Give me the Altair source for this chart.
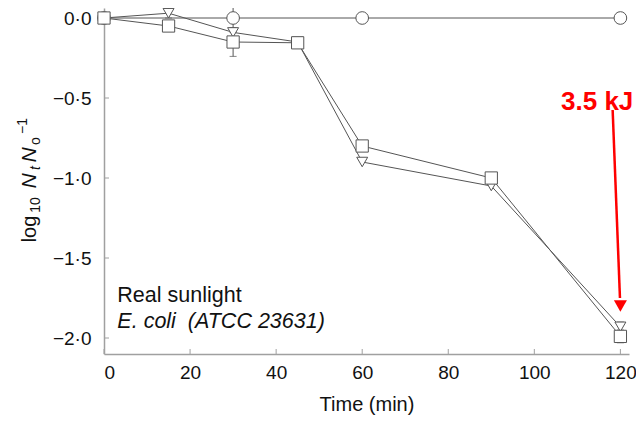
import altair as alt
import pandas as pd

# ---- data ----
t_circle = [0, 30, 60, 120]
y_circle = [0.0, 0.0, 0.0, 0.0]

t_tri = [0, 15, 30, 45, 60, 90, 120]
y_tri = [0.0, 0.03, -0.09, -0.15, -0.90, -1.05, -1.93]

t_sq = [0, 15, 30, 45, 60, 90, 120]
y_sq = [0.0, -0.05, -0.15, -0.155, -0.80, -1.00, -1.99]

err_t = [30, 30, 15, 30, 120, 120]
err_lo = [-0.09, -0.24, 0.0, -0.13, -2.03, -1.96]
err_hi = [0.09, -0.06, 0.07, -0.07, -1.95, -1.90]

x_ticks = [0, 20, 40, 60, 80, 100, 120]
y_ticks = [0.0, -0.5, -1.0, -1.5, -2.0]

note_lines = ["Real sunlight", "E. coli\u00a0\u00a0(ATCC 23631)"]
note_y = [-1.775, -1.94]

arrow_label = "3.5 kJ"
arrow_label_pos = (114.6, -0.575)
arrow_from = (118.2, -0.575)
arrow_to = (119.9, -1.75)
arrow_tip = (120.0, -1.80)

W, H = 525, 346
XDOM = [0, 122]
YDOM = [-2.1, 0.0625]
GRAY = "#555555"
AX = "#a0a0a0"
FONT = "Liberation Sans"

label_expr = "replace(replace(format(datum.value, '.1f'), '.', '\u00b7'), '-', '\u2212')"

xaxis = alt.Axis(values=x_ticks, ticks=False, grid=False, domainColor=AX, domainWidth=1.5,
                 labelFont=FONT, labelFontSize=19, labelColor="#111", labelPadding=9,
                 title="Time (min)", titleFont=FONT, titleFontSize=20, titleFontWeight="normal",
                 titleColor="#111", titlePadding=12)
yaxis = alt.Axis(values=y_ticks, ticks=False, grid=False, domainColor=AX, domainWidth=1.5,
                 labelFont=FONT, labelFontSize=19, labelColor="#111", labelPadding=13,
                 labelExpr=label_expr, title=None)

def X(field="x"):
    return alt.X(f"{field}:Q", scale=alt.Scale(domain=XDOM, nice=False, zero=False), axis=xaxis)

def Y(field="y"):
    return alt.Y(f"{field}:Q", scale=alt.Scale(domain=YDOM, nice=False, zero=False), axis=yaxis)

circ = pd.DataFrame({"x": t_circle, "y": y_circle})
tri = pd.DataFrame({"x": t_tri, "y": y_tri})
sq = pd.DataFrame({"x": t_sq, "y": y_sq})
err = pd.DataFrame({"x": err_t, "y": err_lo, "y2": err_hi})

def series(df, shape, size):
    line = alt.Chart(df).mark_line(color=GRAY, strokeWidth=1).encode(x=X(), y=Y())
    pts = alt.Chart(df).mark_point(shape=shape, size=size, filled=True, fill="white",
                                   stroke=GRAY, strokeWidth=1, opacity=1).encode(x=X(), y=Y())
    return line, pts

errbars = alt.Chart(err).mark_rule(color=GRAY, strokeWidth=1).encode(x=X(), y=Y(), y2="y2:Q")
cap_lo = alt.Chart(err).mark_tick(orient="horizontal", size=7, thickness=1, color=GRAY).encode(x=X(), y=Y())
cap_hi = alt.Chart(err).mark_tick(orient="horizontal", size=7, thickness=1, color=GRAY).encode(
    x=X(), y=Y("y2"))

c_line, c_pts = series(circ, "circle", 160)
t_line, t_pts = series(tri, "triangle-down", 120)
s_line, s_pts = series(sq, "square", 150)

xt = pd.DataFrame({"x": x_ticks})
yt = pd.DataFrame({"y": y_ticks})
xtick_marks = alt.Chart(xt).mark_rule(color=AX, strokeWidth=1).encode(
    x=X(), y=alt.value(H), y2=alt.value(H - 5))
ytick_marks = alt.Chart(yt).mark_rule(color=AX, strokeWidth=1).encode(
    y=Y(), x=alt.value(0), x2=alt.value(5))

note_a = alt.Chart(pd.DataFrame({"x": [3.1], "y": [note_y[0]], "text": [note_lines[0]]})).mark_text(
    align="left", baseline="alphabetic", font=FONT, fontSize=21.5, color="#111").encode(
    x=X(), y=Y(), text="text:N")
note_b = alt.Chart(pd.DataFrame({"x": [3.1], "y": [note_y[1]], "text": [note_lines[1]]})).mark_text(
    align="left", baseline="alphabetic", font=FONT, fontSize=21.5, fontStyle="italic", color="#111").encode(
    x=X(), y=Y(), text="text:N")

arr = pd.DataFrame({"x": [arrow_from[0]], "y": [arrow_from[1]], "x2": [arrow_to[0]], "y2": [arrow_to[1]]})
arrow_line = alt.Chart(arr).mark_rule(color="#ff0000", strokeWidth=2.5).encode(
    x=X(), y=Y(), x2="x2:Q", y2="y2:Q")
tipdf = pd.DataFrame({"x": [arrow_tip[0]], "y": [arrow_tip[1]]})
arrow_head = alt.Chart(tipdf).mark_point(shape="triangle-down", size=170, filled=True,
                                         color="#ff0000", opacity=1).encode(x=X(), y=Y())
lab = pd.DataFrame({"x": [arrow_label_pos[0]], "y": [arrow_label_pos[1]], "text": [arrow_label]})
arrow_text = alt.Chart(lab).mark_text(align="center", baseline="alphabetic", font=FONT,
                                      fontSize=26, fontWeight="bold", color="#ff0000").encode(
    x=X(), y=Y(), text="text:N")

# y-axis title assembled from pieces (rotated)
OX, OY = 104.5, 8
pieces = [
    ("log", 36, 229, 20, "normal"),
    ("10", 40, 205, 14, "normal"),
    ("N", 36, 181, 21, "italic"),
    ("t", 40, 168, 14, "italic"),
    ("N", 36, 155, 21, "italic"),
    ("o", 40, 141, 14, "normal"),
    ("\u22121", 27, 126, 14, "normal"),
]
title_layers = []
for txt, px, py, fs, st in pieces:
    title_layers.append(
        alt.Chart(pd.DataFrame({"a": [0]})).mark_text(
            text=txt, angle=270, align="center", baseline="alphabetic", font=FONT,
            fontSize=fs, fontStyle=st, color="#111").encode(
            x=alt.value(px - OX), y=alt.value(py - OY)))

chart = alt.layer(
    xtick_marks, ytick_marks,
    c_line, t_line, s_line,
    errbars, cap_lo, cap_hi,
    c_pts, t_pts, s_pts,
    note_a, note_b, arrow_line, arrow_head, arrow_text,
    *title_layers,
).properties(
    width=W, height=H,
    autosize=alt.AutoSizeParams(type="none"),
    padding={"left": 96, "top": 0, "right": 7, "bottom": 61},
).configure_view(stroke=None)

chart.save("out.html", embed_options={"renderer": "svg", "actions": False})
